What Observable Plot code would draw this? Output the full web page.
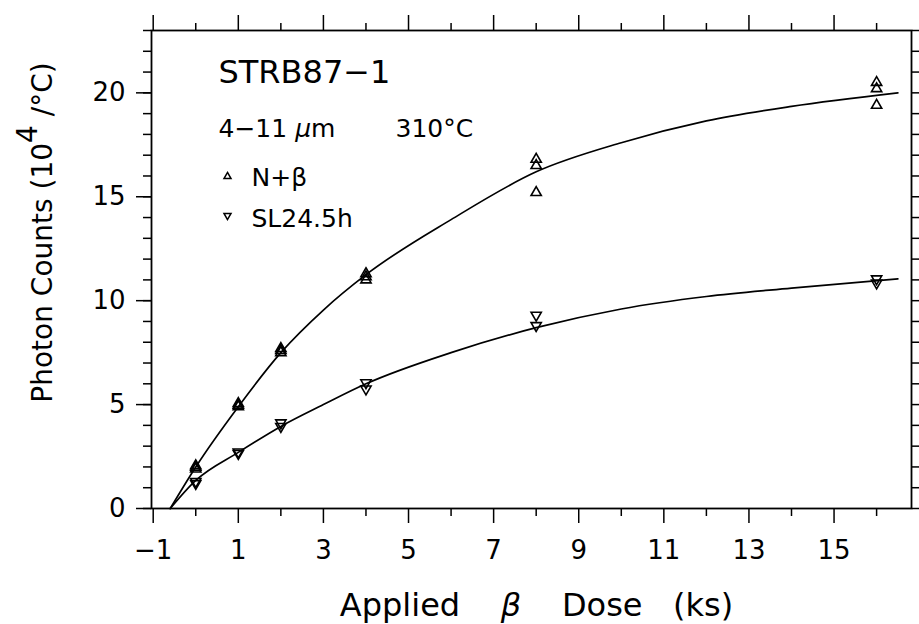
<!DOCTYPE html>
<html>
<head>
<meta charset="utf-8">
<script src="https://cdn.jsdelivr.net/npm/d3@7"></script>
<script src="https://cdn.jsdelivr.net/npm/@observablehq/plot@0.6"></script>
<style>
  html, body { margin: 0; padding: 0; background: white; }
  #chart { width: 919px; height: 624px; }
</style>
</head>
<body>
<div id="chart"></div>
<script>
// ---- data ----
const nbDose   = [0, 0, 0, 1, 1, 1, 2, 2, 2, 4, 4, 4, 8, 8, 8, 16, 16, 16];
const nbCounts = [1.9, 1.98, 2.06, 4.9, 4.97, 5.05, 7.5, 7.6, 7.7, 11.0, 11.15, 11.3, 15.2, 16.5, 16.8, 19.4, 20.2, 20.5];
const slDose   = [0, 0, 1, 1, 2, 2, 4, 4, 8, 8, 16, 16];
const slCounts = [1.2, 1.3, 2.65, 2.72, 3.95, 4.12, 5.75, 6.05, 8.8, 9.3, 10.85, 11.05];
const fitDose  = [-0.6, 0, 1, 2, 3, 4, 6, 8, 10, 12, 14, 16.5];
const nbFit    = [0, 2.0, 4.9, 7.5, 9.55, 11.25, 13.9, 16.2, 17.6, 18.65, 19.35, 20.0];
const slFit    = [0, 1.35, 2.7, 3.95, 5.0, 6.0, 7.5, 8.7, 9.6, 10.2, 10.6, 11.05];

const majorX = [-1, 1, 3, 5, 7, 9, 11, 13, 15];
const minorX = [0, 2, 4, 6, 8, 10, 12, 14, 16];
const majorY = [0, 5, 10, 15, 20];
const allY   = [0, 1, 2, 3, 4, 5, 6, 7, 8, 9, 10, 11, 12, 13, 14, 15, 16, 17, 18, 19, 20, 21, 22, 23];

const sampleName = "STRB87−1";
const grainText = "4−11 μm";
const tempText = "310°C";
const seriesNames = ["N+β", "SL24.5h"];
const xLabel = "Applied β Dose (ks)";
const yLabel = "Photon Counts (10^4 /°C)";

// ---- tables ----
const nbPts = nbDose.map((d, i) => ({dose: d, counts: nbCounts[i]}));
const slPts = slDose.map((d, i) => ({dose: d, counts: slCounts[i]}));
const nbLine = fitDose.map((d, i) => ({dose: d, counts: nbFit[i]}));
const slLine = fitDose.map((d, i) => ({dose: d, counts: slFit[i]}));

const triDown = {
  draw(ctx, size) {
    const y = Math.sqrt(size / (3 * Math.sqrt(3)));
    ctx.moveTo(0, 2 * y);
    ctx.lineTo(-Math.sqrt(3) * y, -y);
    ctx.lineTo(Math.sqrt(3) * y, -y);
    ctx.closePath();
  }
};

const blank = () => "";
const sw = 1.5;

const chart = Plot.plot({
  width: 919,
  height: 624,
  marginLeft: 151,
  marginRight: 8,
  marginTop: 30,
  marginBottom: 116,
  style: {fontFamily: "DejaVu Sans", background: "white", color: "black"},
  x: {domain: [-1.04, 16.82]},
  y: {domain: [0, 23]},
  marks: [
    // bottom axis
    Plot.axisX({ticks: majorX, tickSize: 15, tickPadding: 17, fontSize: 26, label: null, strokeWidth: sw}),
    Plot.axisX({ticks: minorX, tickSize: 8, tickFormat: blank, label: null, strokeWidth: sw}),
    // top axis
    Plot.axisX({anchor: "top", ticks: majorX, tickSize: 16, tickFormat: blank, label: null, strokeWidth: sw}),
    Plot.axisX({anchor: "top", ticks: minorX, tickSize: 8, tickFormat: blank, label: null, strokeWidth: sw}),
    // left axis
    Plot.axisY({ticks: majorY, tickSize: 15, tickPadding: 11, fontSize: 26, label: null, strokeWidth: sw}),
    Plot.axisY({ticks: allY, tickSize: 8, tickFormat: blank, label: null, strokeWidth: sw}),
    // right axis
    Plot.axisY({anchor: "right", ticks: allY, tickSize: 8, tickFormat: blank, label: null, strokeWidth: sw}),
    Plot.frame({stroke: "black", strokeWidth: 1.8}),
    // fitted curves
    Plot.line(nbLine, {x: "dose", y: "counts", curve: "monotone-x", stroke: "black", strokeWidth: 1.7}),
    Plot.line(slLine, {x: "dose", y: "counts", curve: "monotone-x", stroke: "black", strokeWidth: 1.7}),
    // data points
    Plot.dot(nbPts, {x: "dose", y: "counts", symbol: "triangle", r: 3.8, stroke: "black", fill: "none", strokeWidth: 1.6}),
    Plot.dot(slPts, {x: "dose", y: "counts", symbol: triDown, r: 3.8, stroke: "black", fill: "none", strokeWidth: 1.6}),
    // annotations
    Plot.text([sampleName], {text: d => d, frameAnchor: "top-left", dx: 67, dy: 42, fontSize: 32, textAnchor: "start", lineAnchor: "middle", fill: "black"}),
    Plot.text([grainText], {text: d => d, frameAnchor: "top-left", dx: 67, dy: 98, fontSize: 25, textAnchor: "start", lineAnchor: "middle", fill: "black", ariaLabel: () => "grain"}),
    Plot.text([tempText], {text: d => d, frameAnchor: "top-left", dx: 244, dy: 98, fontSize: 25, textAnchor: "start", lineAnchor: "middle", fill: "black"}),
    // legend
    Plot.dot([seriesNames[0]], {frameAnchor: "top-left", dx: 76, dy: 146, symbol: "triangle", r: 2.6, stroke: "black", fill: "white", strokeWidth: 1.5}),
    Plot.dot([seriesNames[1]], {frameAnchor: "top-left", dx: 76, dy: 185, symbol: triDown, r: 2.6, stroke: "black", fill: "white", strokeWidth: 1.5}),
    Plot.text([seriesNames[0]], {text: d => d, frameAnchor: "top-left", dx: 100, dy: 147, fontSize: 25, textAnchor: "start", lineAnchor: "middle", fill: "black"}),
    Plot.text([seriesNames[1]], {text: d => d, frameAnchor: "top-left", dx: 100, dy: 188, fontSize: 25, textAnchor: "start", lineAnchor: "middle", fill: "black"}),
    // axis titles
    Plot.text([xLabel], {text: d => d, frameAnchor: "bottom", dx: 5, dy: 97, fontSize: 32, textAnchor: "middle", lineAnchor: "middle", fill: "black", ariaLabel: () => "xlabel"}),
    Plot.text([yLabel], {text: d => d, frameAnchor: "left", dx: -108, dy: -37, rotate: -90, fontSize: 28, textAnchor: "middle", lineAnchor: "middle", fill: "black", ariaLabel: () => "ylabel"})
  ]
});

document.getElementById("chart").appendChild(chart);

// rich text formatting (italic Greek letters, superscript)
const svg = d3.select(chart);
const NB = "\u00a0";
function findText(name, original) {
  let sel = svg.selectAll('[aria-label="' + name + '"]');
  let nodes = [];
  sel.each(function() {
    if (this.tagName.toLowerCase() === "text") nodes.push(this);
    else d3.select(this).selectAll("text").each(function() { nodes.push(this); });
  });
  if (!nodes.length) svg.selectAll("text").each(function() { if (this.textContent === original) nodes.push(this); });
  return d3.selectAll(nodes);
}
findText("xlabel", xLabel).each(function() {
  const t = d3.select(this);
  const parts = xLabel.split(" ");
  t.text(null);
  t.append("tspan").text(parts[0] + NB.repeat(4));
  t.append("tspan").attr("font-style", "italic").text(parts[1]);
  t.append("tspan").text(NB.repeat(4) + parts[2] + NB.repeat(3) + parts.slice(3).join(NB));
});
findText("ylabel", yLabel).each(function() {
  const t = d3.select(this);
  const [pre, post] = yLabel.split("^4");
  t.text(null);
  t.append("tspan").text(pre.split(" ").join(NB));
  t.append("tspan").attr("dy", "-0.55em").text("4");
  t.append("tspan").attr("dy", "0.55em").text(post.split(" ").join(NB));
});
findText("grain", grainText).each(function() {
  const t = d3.select(this);
  const [a, b] = grainText.split(" ");
  t.text(null);
  t.append("tspan").text(a + NB);
  t.append("tspan").attr("font-style", "italic").text(b[0]);
  t.append("tspan").text(b.slice(1));
});
</script>
</body>
</html>
